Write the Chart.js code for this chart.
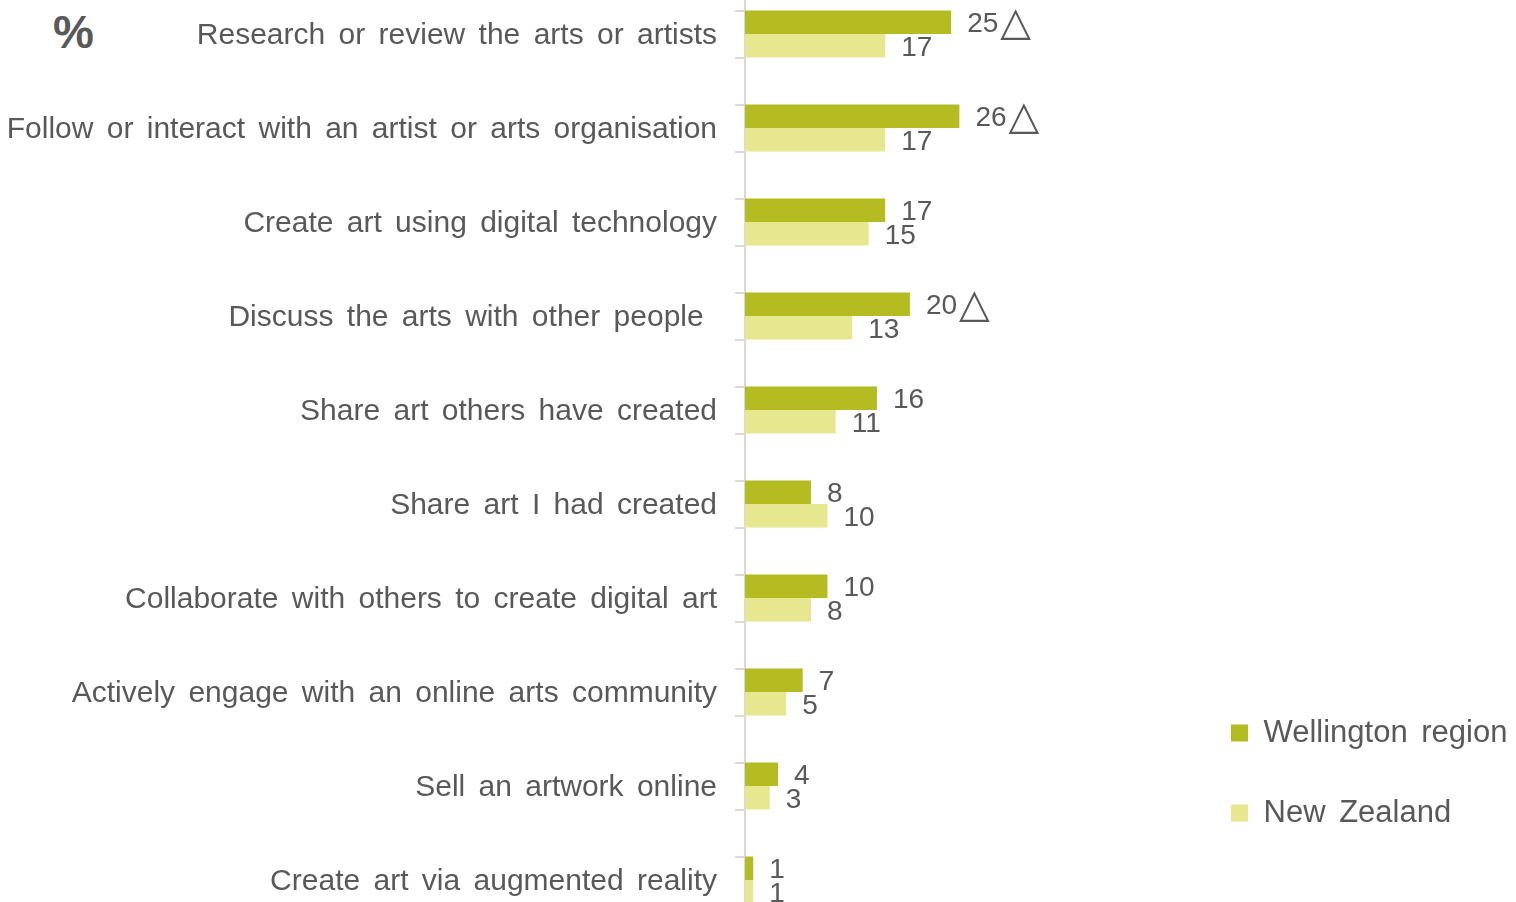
<!DOCTYPE html>
<html>
<head>
<meta charset="utf-8">
<script src="https://cdn.jsdelivr.net/npm/chart.js@4/dist/chart.umd.min.js"></script>
<style>
  html, body { margin: 0; padding: 0; background: #ffffff; }
  body { width: 1516px; height: 902px; overflow: hidden; position: relative; }
  #c { position: absolute; left: 0; top: -13px; }
  #pct { position: absolute; left: 53px; top: 5px; font: bold 46px 'Liberation Sans', Arial, sans-serif; color: #595959; }
</style>
</head>
<body>
<div id="pct">%</div>
<canvas id="c" width="1516" height="940"></canvas>
<script>
const categories = [
  'Research or review the arts or artists',
  'Follow or interact with an artist or arts organisation',
  'Create art using digital technology',
  'Discuss the arts with other people ',
  'Share art others have created',
  'Share art I had created',
  'Collaborate with others to create digital art',
  'Actively engage with an online arts community',
  'Sell an artwork online',
  'Create art via augmented reality'
];
const seriesNames = ['Wellington region', 'New Zealand'];
const wellington = [25, 26, 17, 20, 16, 8, 10, 7, 4, 1];
const newZealand = [17, 17, 15, 13, 11, 10, 8, 5, 3, 1];
const wellingtonMarks = ['△', '△', '', '△', '', '', '', '', '', ''];
const newZealandMarks = ['', '', '', '', '', '', '', '', '', ''];
const halfTickLabels = Array.from({ length: 20 }, (_, i) => String(i));

const FONT = "'Liberation Sans', Arial, sans-serif";
const TEXT = '#595959';
const AXIS = '#d9d9d9';

const spacingPlugin = {
  id: 'spacing',
  beforeUpdate(chart) { chart.ctx.wordSpacing = '5px'; },
  beforeDraw(chart) { chart.ctx.wordSpacing = '5px'; }
};

const valueLabels = {
  id: 'valueLabels',
  afterDatasetsDraw(chart) {
    const ctx = chart.ctx;
    const marks = [wellingtonMarks, newZealandMarks];
    ctx.save();
    ctx.fillStyle = TEXT;
    ctx.textAlign = 'left';
    ctx.textBaseline = 'middle';
    chart.data.datasets.forEach((ds, di) => {
      const meta = chart.getDatasetMeta(di);
      meta.data.forEach((bar, i) => {
        const p = bar.getProps(['x', 'y'], true);
        const txt = String(ds.data[i]);
        ctx.font = '28px ' + FONT;
        const tx = p.x + 16;
        ctx.fillText(txt, tx, p.y + 2.5);
        const mark = marks[di][i];
        if (mark) {
          const w = ctx.measureText(txt).width;
          ctx.font = "40px 'DejaVu Sans', sans-serif";
          ctx.fillText(mark, tx + w + 2, p.y + 2);
        }
      });
    });
    ctx.restore();
  }
};

new Chart(document.getElementById('c'), {
  type: 'bar',
  data: {
    labels: categories,
    datasets: [
      { label: seriesNames[0], data: wellington, backgroundColor: '#B4BC21', yAxisID: 'y',
        categoryPercentage: 0.5, barPercentage: 1.0 },
      { label: seriesNames[1], data: newZealand, backgroundColor: '#E6E78F', yAxisID: 'y',
        categoryPercentage: 0.5, barPercentage: 1.0 }
    ]
  },
  options: {
    indexAxis: 'y',
    responsive: false,
    animation: false,
    layout: { padding: 0 },
    scales: {
      y: {
        type: 'category',
        position: 'left',
        weight: 1,
        offset: true,
        grid: { display: false, drawTicks: false },
        border: { display: false },
        ticks: { color: TEXT, font: { family: FONT, size: 30 }, padding: 18, autoSkip: false, labelOffset: 2 },
        afterFit(scale) { scale.width = 735; scale.paddingTop = 0; scale.paddingBottom = 0; }
      },
      yTicks: {
        type: 'category',
        axis: 'y',
        position: 'left',
        weight: 0,
        labels: halfTickLabels,
        offset: true,
        grid: { offset: false, drawOnChartArea: false, drawTicks: true, tickLength: 10, color: AXIS, lineWidth: 2 },
        border: { display: true, color: AXIS, width: 2 },
        ticks: { display: false, autoSkip: false }
      },
      x: {
        display: false,
        min: 0,
        max: 53.0
      }
    },
    plugins: {
      tooltip: { enabled: false },
      legend: {
        position: 'right',
        align: 'start',
        maxWidth: 334,
        title: { display: true, text: ' ', font: { size: 10, lineHeight: 1 }, padding: { top: 0, bottom: 671.5 } },
        labels: {
          color: TEXT,
          font: { family: FONT, size: 31 },
          boxWidth: 17,
          boxHeight: 17,
          padding: 49
        }
      }
    }
  },
  plugins: [spacingPlugin, valueLabels]
});
</script>
</body>
</html>
